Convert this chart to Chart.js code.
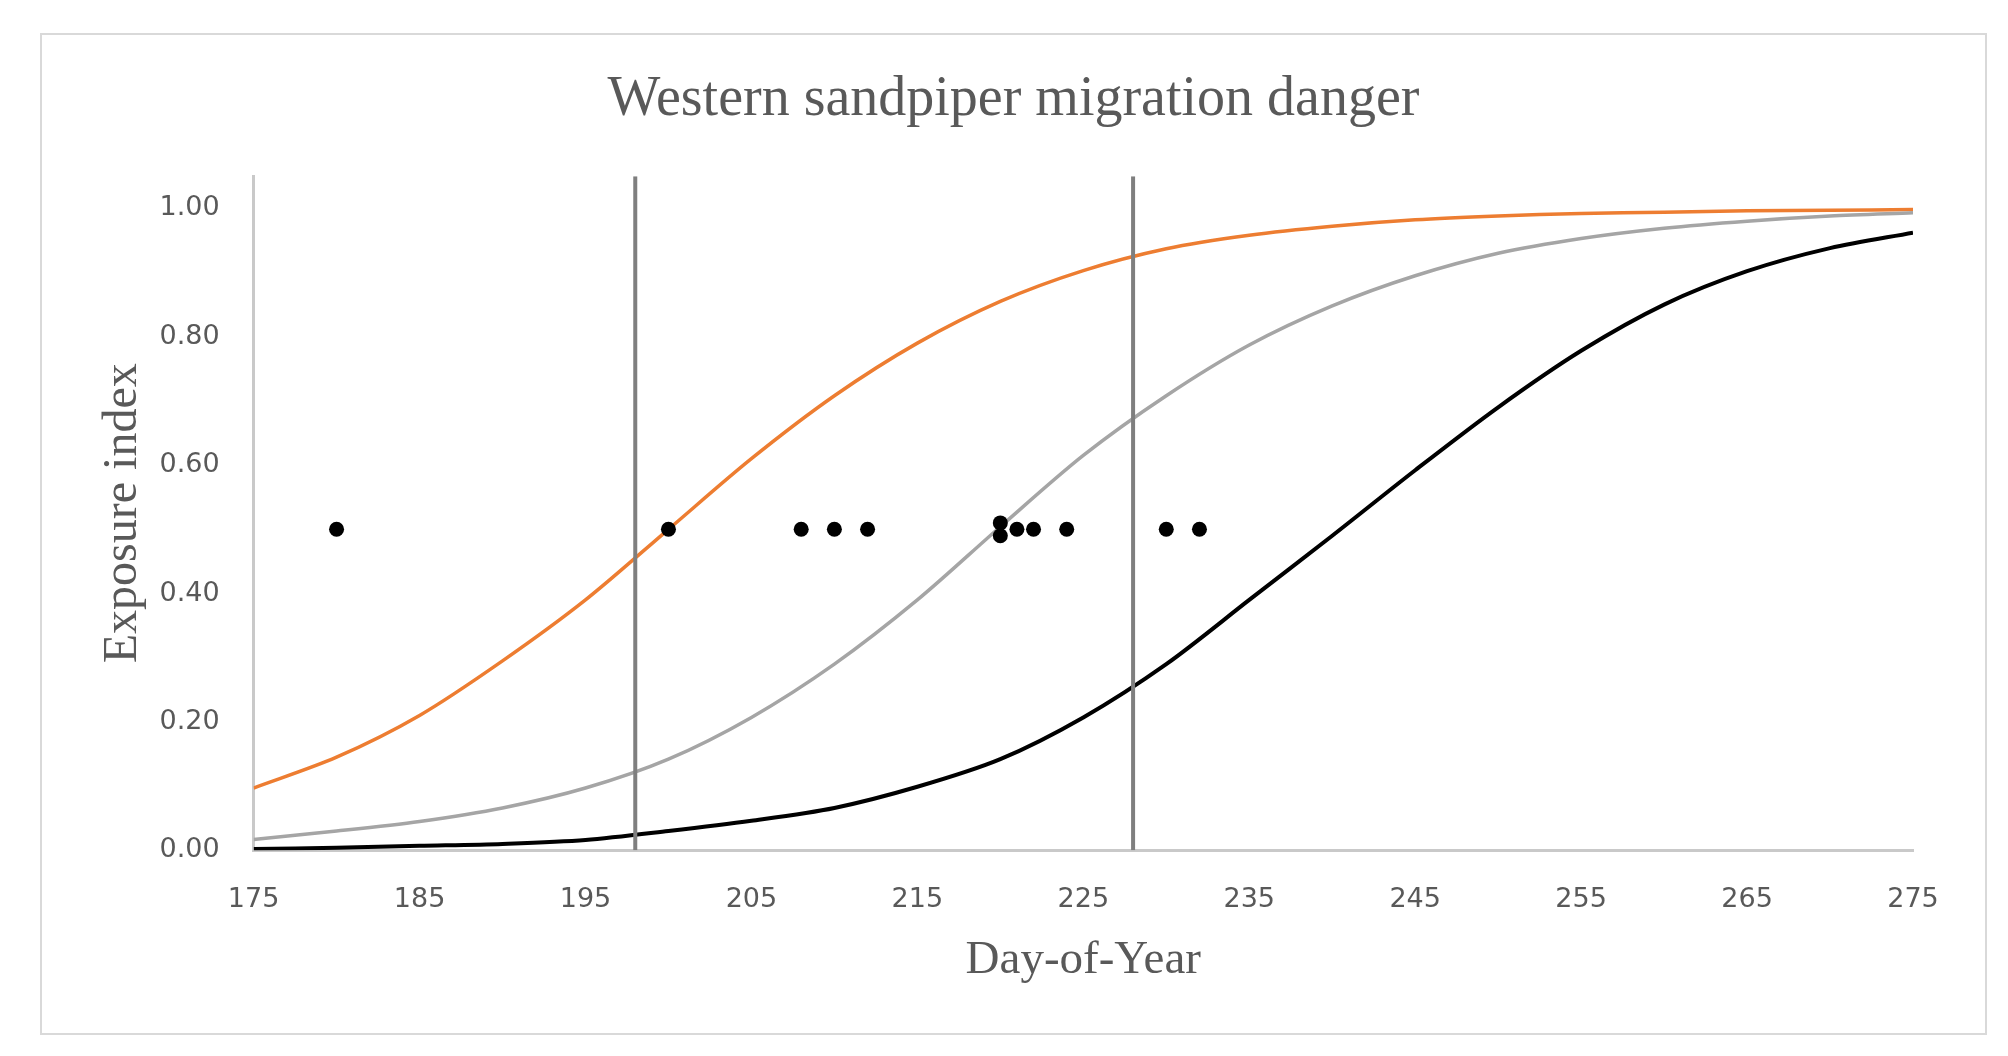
<!DOCTYPE html>
<html>
<head>
<meta charset="utf-8">
<script src="https://cdn.jsdelivr.net/npm/chart.js@4.4.1/dist/chart.umd.min.js"></script>
<style>
html,body{margin:0;padding:0;background:#fff;width:2008px;height:1056px;overflow:hidden}
#frame{position:absolute;left:40px;top:33px;width:1947px;height:1002px;border:2px solid #D9D9D9;box-sizing:border-box;background:#fff}
#wrap{position:absolute;left:0;top:0;width:1943px;height:998px}
</style>
</head>
<body>
<div id="frame"><div id="wrap"><canvas id="c"></canvas></div></div>
<script>
// ---- data ----
const days = [175,180,185,190,195,200,205,210,215,220,225,230,235,240,245,250,255,260,265,270,275];
const orangeSeries = [0.097,0.145,0.210,0.295,0.390,0.500,0.610,0.708,0.790,0.855,0.903,0.937,0.958,0.972,0.982,0.988,0.992,0.994,0.996,0.997,0.998];
const graySeries   = [0.017,0.030,0.045,0.066,0.097,0.142,0.207,0.290,0.390,0.504,0.615,0.708,0.787,0.848,0.895,0.930,0.953,0.969,0.980,0.988,0.993];
const blackSeries  = [0.002,0.004,0.007,0.010,0.016,0.030,0.046,0.066,0.099,0.142,0.207,0.290,0.390,0.490,0.592,0.690,0.778,0.850,0.902,0.938,0.962];
const sightingDays   = [180,200,208,210,212,220,220,221,222,224,230,232];
const sightingValues = [0.50,0.50,0.50,0.50,0.50,0.51,0.49,0.50,0.50,0.50,0.50,0.50];
const markerDays = [198,228];
const markerSpan = [0,1.05];
const xTicks = [175,185,195,205,215,225,235,245,255,265,275];
const yTicks = [0,0.2,0.4,0.6,0.8,1.0];

const pts = (xs, ys) => xs.map((x,i)=>({x:x,y:ys[i]}));

const datasets = [
  {label:'Sightings', data:pts(sightingDays,sightingValues), showLine:false,
   pointRadius:7.5, pointHoverRadius:7.5, pointBackgroundColor:'#000', pointBorderColor:'#000', pointBorderWidth:0},
];
markerDays.forEach(d=>{
  datasets.push({label:'Day '+d, data:markerSpan.map(v=>({x:d,y:v})), showLine:true,
    borderColor:'#7F7F7F', borderWidth:4, pointRadius:0, pointHoverRadius:0});
});
datasets.push(
  {label:'Black', data:pts(days,blackSeries), showLine:true, borderColor:'#000000', borderWidth:4,
   pointRadius:0, pointHoverRadius:0, tension:0.3},
  {label:'Gray', data:pts(days,graySeries), showLine:true, borderColor:'#A5A5A5', borderWidth:3.5,
   pointRadius:0, pointHoverRadius:0, tension:0.3},
  {label:'Orange', data:pts(days,orangeSeries), showLine:true, borderColor:'#ED7D31', borderWidth:3.5,
   pointRadius:0, pointHoverRadius:0, tension:0.3}
);

new Chart(document.getElementById('c'), {
  type:'scatter',
  data:{datasets:datasets},
  options:{
    responsive:true, maintainAspectRatio:false, animation:false,
    layout:{padding:{left:72,right:72,top:0,bottom:0}},
    plugins:{
      legend:{display:false}, tooltip:{enabled:false},
      title:{display:true, text:'Western sandpiper migration danger', color:'#595959',
        font:{family:'"Liberation Serif","Times New Roman",serif', size:56, weight:'normal'},
        padding:{top:32,bottom:42}}
    },
    scales:{
      x:{type:'linear', min:175, max:275,
        afterBuildTicks:(s)=>{s.ticks = xTicks.map(v=>({value:v}));},
        afterFit:(s)=>{s.height = 182.7;},
        grid:{display:false, drawTicks:false},
        border:{display:true, color:'#C9C9C9', width:3},
        ticks:{padding:33, color:'#595959', maxRotation:0, autoSkip:false,
          font:{family:'"DejaVu Sans",sans-serif', size:27},
          callback:(v)=>String(v)},
        title:{display:true, text:'Day-of-Year', color:'#595959',
          font:{family:'"Liberation Serif","Times New Roman",serif', size:47},
          padding:{top:44,bottom:44}}
      },
      y:{type:'linear', min:0, max:1.05,
        afterBuildTicks:(s)=>{s.ticks = yTicks.map(v=>({value:v}));},
        afterFit:(s)=>{s.width = 139.6;},
        grid:{display:false, drawTicks:false},
        border:{display:true, color:'#C9C9C9', width:3},
        ticks:{padding:34, color:'#595959',
          font:{family:'"DejaVu Sans",sans-serif', size:27},
          callback:(v)=>Number(v).toFixed(2)},
        title:{display:true, text:'Exposure index', color:'#595959',
          font:{family:'"Liberation Serif","Times New Roman",serif', size:48},
          padding:{top:-19.5,bottom:-19.5}}
      }
    }
  }
});
</script>
</body>
</html>
